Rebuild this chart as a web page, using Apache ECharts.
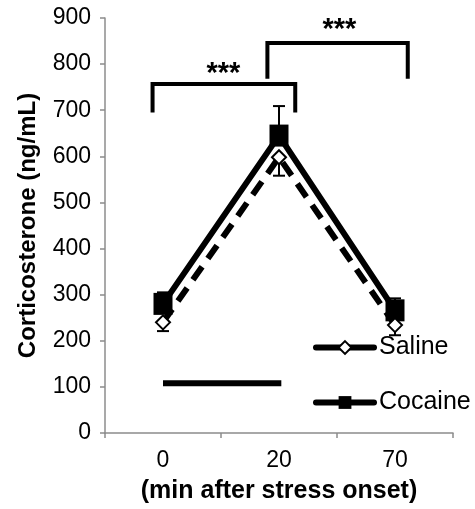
<!DOCTYPE html>
<html><head><meta charset="utf-8">
<script src="https://cdn.jsdelivr.net/npm/echarts@6/dist/echarts.min.js"></script>
<style>html,body{margin:0;padding:0;background:#fff}#c{width:475px;height:509px}</style>
</head><body><div id="c"></div>
<script>
var categories = ['0', '20', '70'];
var salineMean = [240, 598, 234];
var salineLow = [221, 558, 212];
var cocaineMean = [280, 645, 266];
var cocaineHigh = [305, 709, 292];
var yTicks = [0, 100, 200, 300, 400, 500, 600, 700, 800, 900];
// significance brackets: [xStart, xEnd, legBottom, top] in category-index units / ng/mL
var brackets = [[-0.09, 1.14, 695, 757], [0.9, 2.11, 768, 846]];
var stars = [[0.52, 779, '***'], [1.52, 874, '***']];
var stressBar = [[0, 108], [1.02, 108]];

var chart = echarts.init(document.getElementById('c'), null, {renderer: 'canvas'});
var FONT = 'Liberation Sans, Arial, sans-serif';

function errRender() {
  return function (params, api) {
    var i = api.value(0);
    var p1 = api.coord([i, api.value(1)]);
    var p2 = api.coord([i, api.value(2)]);
    var hw = 6;
    return {type: 'group', children: [
      {type: 'line', shape: {x1: p1[0], y1: p1[1], x2: p2[0], y2: p2[1]}, style: {stroke: '#000', lineWidth: 2}},
      {type: 'line', shape: {x1: p2[0] - hw, y1: p2[1], x2: p2[0] + hw, y2: p2[1]}, style: {stroke: '#000', lineWidth: 2}}
    ]};
  };
}

var option = {
  animation: false,
  grid: {left: 105, right: 22, top: 18, bottom: 76},
  legend: {
    data: ['Saline', 'Cocaine'], orient: 'vertical', left: 313, top: 335,
    itemWidth: 58, itemHeight: 16, itemGap: 30, padding: 0,
    lineStyle: {width: 6, type: 'solid', cap: 'round'},
    textStyle: {fontFamily: FONT, fontSize: 25, color: '#000'}
  },
  xAxis: [{
    type: 'category', data: categories, boundaryGap: true,
    axisLine: {lineStyle: {color: '#8c8c8c', width: 1.5}},
    axisTick: {show: true, length: 5, lineStyle: {color: '#8c8c8c', width: 1.5}},
    axisLabel: {fontFamily: FONT, fontSize: 23, color: '#000', margin: 16},
    name: '(min after stress onset)', nameLocation: 'middle', nameGap: 46,
    nameTextStyle: {fontFamily: FONT, fontSize: 25, fontWeight: 'bold', color: '#000'}
  }, {
    type: 'value', min: -0.5, max: 2.5, show: false
  }],
  yAxis: {
    type: 'value', min: 0, max: 900, interval: 100,
    splitLine: {show: false},
    axisLine: {show: true, onZero: false, lineStyle: {color: '#8c8c8c', width: 1.5}},
    axisTick: {show: true, length: 5, lineStyle: {color: '#8c8c8c', width: 1.5}},
    axisLabel: {fontFamily: FONT, fontSize: 23, color: '#000', margin: 14,
      formatter: function (v) { return yTicks.indexOf(v) >= 0 ? String(v) : ''; }},
    name: 'Corticosterone (ng/mL)', nameLocation: 'middle', nameGap: 65,
    nameTextStyle: {fontFamily: FONT, fontSize: 24, fontWeight: 'bold', color: '#000'}
  },
  series: [
    {name: 'CocErr', type: 'custom', xAxisIndex: 0, renderItem: errRender(), z: 1,
      data: cocaineMean.map(function (m, i) { return [i, m, cocaineHigh[i]]; })},
    {name: 'SalErr', type: 'custom', xAxisIndex: 0, renderItem: errRender(), z: 1,
      data: salineMean.map(function (m, i) { return [i, m, salineLow[i]]; })},
    {name: 'Saline', type: 'line', xAxisIndex: 0, data: salineMean, z: 3,
      symbol: 'diamond', symbolSize: 14,
      lineStyle: {color: '#000', width: 6, type: [16, 10]},
      itemStyle: {color: '#fff', borderColor: '#000', borderWidth: 2}},
    {name: 'Cocaine', type: 'line', xAxisIndex: 0, data: cocaineMean, z: 2,
      symbol: 'rect', symbolSize: [19, 22],
      lineStyle: {color: '#000', width: 6},
      itemStyle: {color: '#000'}},
    {name: 'Stress', type: 'line', xAxisIndex: 1, data: stressBar, symbol: 'none',
      lineStyle: {color: '#000', width: 6, cap: 'butt'}},
    {name: 'Brackets', type: 'custom', xAxisIndex: 1, data: brackets,
      renderItem: function (params, api) {
        var a = api.coord([api.value(0), api.value(2)]);
        var b = api.coord([api.value(0), api.value(3)]);
        var c = api.coord([api.value(1), api.value(3)]);
        var d = api.coord([api.value(1), api.value(2)]);
        return {type: 'polyline', shape: {points: [a, b, c, d]},
          style: {stroke: '#000', lineWidth: 4, fill: null, lineJoin: 'miter'}};
      }},
    {name: 'Stars', type: 'custom', xAxisIndex: 1, data: stars,
      renderItem: function (params, api) {
        var p = api.coord([api.value(0), api.value(1)]);
        return {type: 'text', x: p[0], y: p[1],
          style: {text: stars[params.dataIndex][2], align: 'center', verticalAlign: 'middle',
            fontFamily: FONT, fontSize: 29, fontWeight: 'bold', fill: '#000'}};
      }}
  ]
};
chart.setOption(option);
</script></body></html>
